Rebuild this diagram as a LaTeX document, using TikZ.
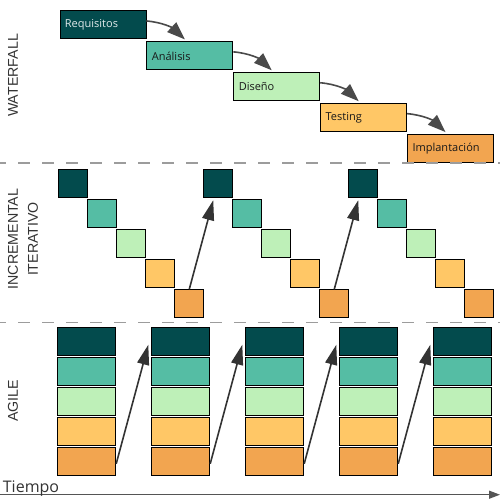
\documentclass[tikz,border=0pt]{standalone}
\usepackage{fontspec}
\setmainfont{Open Sans}
\newfontfamily\sidefont{Liberation Sans}
\usepackage{xcolor}
\definecolor{cReq}{HTML}{034B4D}
\definecolor{cAna}{HTML}{55BDA4}
\definecolor{cDis}{HTML}{BEF0B8}
\definecolor{cTst}{HTML}{FFC766}
\definecolor{cImp}{HTML}{F2A550}
\definecolor{cArrow}{HTML}{333333}
\definecolor{cFlow}{HTML}{4A4A4A}
\definecolor{cSep}{HTML}{9C9C9C}
\definecolor{cAxis}{HTML}{555555}
\definecolor{cText}{HTML}{333333}
\usetikzlibrary{positioning,arrows.meta}
\tikzset{
  node-phase/.style={draw=black,line width=0.9pt,minimum width=86pt,
    minimum height=28pt,inner xsep=5pt,inner ysep=0pt,text width=76pt,
    align=left,font=\fontsize{11}{13}\selectfont,text=black!90},
  node-inc/.style={draw=black,line width=0.9pt,minimum width=29pt,
    minimum height=28pt,inner sep=0pt,anchor=north west},
  node-agile/.style={draw=black,line width=0.9pt,minimum width=58pt,
    minimum height=28pt,inner sep=0pt,anchor=north west},
  node-side/.style={rotate=90,align=center,text=cText,
    font=\sidefont\fontsize{14.2}{20}\selectfont},
  arrow-flow/.style={-{Triangle[length=18pt,width=13pt]},line width=1.6pt,draw=cFlow},
  arrow-step/.style={-{Triangle[length=20pt,width=12pt]},line width=1.6pt,draw=cArrow},
  arrow-time/.style={-{Triangle[length=11pt,width=8pt]},line width=1.3pt,draw=cAxis},
  sep-line/.style={draw=cSep,line width=1.3pt,dash pattern=on 12pt off 12pt,dash phase=6pt},
}
\begin{document}
\begin{tikzpicture}[x=1pt,y=1pt,node distance=2pt and 0pt]
  \useasboundingbox (0,0) rectangle (500,-500);
  % waterfall
  \node[node-phase,fill=cReq,text=white!88!cReq,anchor=north west] (req) at (59.5,-10.5) {Requisitos};
  \node[node-phase,fill=cAna,below right=of req.south east,anchor=north west] (ana) {Análisis};
  \node[node-phase,fill=cDis,below right=of ana.south east,anchor=north west] (dis) {Diseño};
  \node[node-phase,fill=cTst,below right=of dis.south east,anchor=north west] (tst) {Testing};
  \node[node-phase,fill=cImp,below right=of tst.south east,anchor=north west] (imp) {Implantación};
  \draw[arrow-flow] ([yshift=4pt]req.east) to[out=-5,in=137] ([xshift=-5pt,yshift=2pt]ana.north);
  \draw[arrow-flow] ([yshift=4pt]ana.east) to[out=-5,in=137] ([xshift=-5pt,yshift=2pt]dis.north);
  \draw[arrow-flow] ([yshift=4pt]dis.east) to[out=-5,in=137] ([xshift=-5pt,yshift=2pt]tst.north);
  \draw[arrow-flow] ([yshift=4pt]tst.east) to[out=-5,in=137] ([xshift=-5pt,yshift=2pt]imp.north);

  % incremental / iterativo
  \foreach \g in {0,1,2}
    \foreach \k/\c in {1/cReq,2/cAna,3/cDis,4/cTst,5/cImp}
      \node[node-inc,fill=\c] (inc-\g-\k) at ({58.3+29*(5*\g+\k-1)},{-169.3-30*(\k-1)}) {};
  \foreach \g/\n in {0/1,1/2}
    \draw[arrow-step] (inc-\g-5.north) -- ([xshift=-5pt,yshift=-2pt]inc-\n-1.south);

  % agile
  \foreach \g in {0,...,4}
    \foreach \k/\c in {1/cReq,2/cAna,3/cDis,4/cTst,5/cImp}
      \node[node-agile,fill=\c] (agl-\g-\k) at ({57.3+94*\g},{-327.3-30*(\k-1)}) {};
  \foreach \g/\n in {0/1,1/2,2/3,3/4}
    \draw[arrow-step] ([yshift=-2pt]agl-\g-5.east) -- ([xshift=-3pt,yshift=-3pt]agl-\n-1.west);

  % separadores
  \draw[sep-line] (0,-163) -- (500,-163);
  \draw[sep-line] (0,-322.3) -- (500,-322.3);

  % etiquetas laterales
  \node[node-side] (lbl-wf)  at (13,-75.5) {WATERFALL};
  \node[node-side] (lbl-inc) at (23,-239) {INCREMENTAL\\ITERATIVO};
  \node[node-side] (lbl-agl) at (13,-401) {AGILE};

  % eje de tiempo
  \coordinate (t-start) at (0,-494.7);
  \coordinate (t-end)   at (500,-494.7);
  \draw[arrow-time] (t-start) -- (t-end);
  \node[anchor=base west,inner sep=0pt,text=cText,font=\fontsize{16}{18}\selectfont] (tiempo) at (2.7,-492.5) {Tiempo};
\end{tikzpicture}
\end{document}
